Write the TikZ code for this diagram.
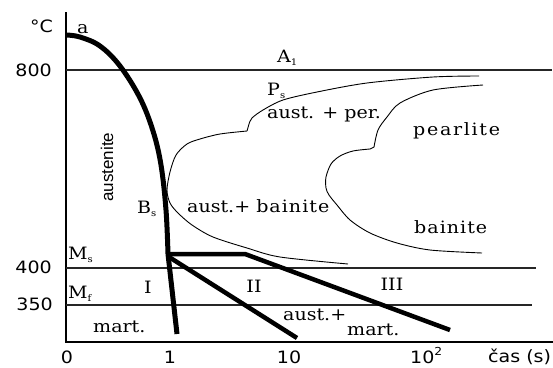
\documentclass[tikz,border=0pt]{standalone}
\usepackage{fontspec}
\newfontfamily\serifl[FakeStretch=1.12]{DejaVu Serif}
\newfontfamily\seriflA[FakeStretch=1.12,LetterSpace=10]{DejaVu Serif}
\newfontfamily\seriflB[FakeStretch=1.12,LetterSpace=6]{DejaVu Serif}
\newfontfamily\sansl[FakeStretch=1.12]{DejaVu Sans}
\newfontfamily\arl{Liberation Sans}
\newcommand\sbs[1]{\raisebox{-3.5pt}{\fontsize{9}{9}\selectfont #1}}
\begin{document}
\begin{tikzpicture}[x=1pt,y=-1pt,
  lbl/.style={font=\serifl\fontsize{17}{20}\selectfont, inner sep=0pt},
  num/.style={font=\sansl\fontsize{17}{20}\selectfont, inner sep=0pt},
  axis/.style={line width=1.6pt},
  guide/.style={line width=1.1pt, black!85},
  cool/.style={line width=5pt, line join=round},
  tcurve/.style={line width=0.9pt, line join=round}]
\useasboundingbox (0,0) rectangle (553,367);
% axes
\coordinate (O) at (66,342);
\coordinate (Ytop) at (66,12);
\coordinate (Xend) at (553,342);
\draw[axis] (Ytop) -- (O) -- (Xend);
% guide lines
\coordinate (g800a) at (66,70);  \coordinate (g800b) at (552,70);
\coordinate (g400a) at (66,268); \coordinate (g400b) at (536,268);
\coordinate (g350a) at (66,305); \coordinate (g350b) at (532,305);
\draw[guide] (g800a) -- (g800b);
\draw[guide] (g400a) -- (g400b);
\draw[guide] (g350a) -- (g350b);
% cooling curve
\coordinate (J) at (168,254);
\coordinate (K) at (245,254);
\draw[cool] plot[smooth, tension=0.6] coordinates {(66,35) (80,37) (100,46) (120,66) (140,98) (153,131) (161,165) (166,210) (168,254)} -- (177,334);
\draw[cool, line width=4.5pt] (J) -- (K) -- (450,330);
\draw[cool, line width=4.5pt] (169,257) -- (297,338);
% left C curve
\draw[tcurve] plot[smooth, tension=0.5] coordinates {(479,76) (433,77) (367,83) (317,92) (283,100) (263,110) (252,118) (249,124)} -- (247,131);
\draw[tcurve] plot[smooth, tension=0.5] coordinates {(247,131) (220,134) (200,139) (187,144) (176,155) (170,172) (167,190) (170,203) (178,213) (192,225) (213,237) (247,248) (280,257) (348,264)};
% right C curve
\draw[tcurve] plot[smooth, tension=0.5] coordinates {(483,85) (433,90) (400,103) (387,117) (378,130) (374,147)} -- (370,149);
\draw[tcurve] plot[smooth, tension=0.5] coordinates {(370,149) (353,151) (340,156) (331,164) (326,177) (326,188) (329,195) (337,205) (350,220) (370,233) (397,243) (430,250) (482,253)};
% labels
\node[num, anchor=base west] (degC) at (30,32) {°C};
\node[lbl, anchor=base west] (la) at (77,33) {a};
\node[num, anchor=base east] (t800) at (52,76) {800};
\node[num, anchor=base east] (t400) at (52,273) {400};
\node[num, anchor=base east] (t350) at (53,310) {350};
\node[lbl, anchor=base west] (A1) at (277,62) {A\sbs{1}};
\node[lbl, anchor=base west] (Ps) at (267,95) {P\sbs{s}};
\node[lbl, anchor=base west] (ap) at (267,118) {aust. + per.};
\node[lbl, anchor=base west, font=\seriflA\fontsize{17}{20}\selectfont] (pl) at (413,135) {pearlite};
\node[inner sep=0pt, anchor=base west, rotate=90, font=\arl\fontsize{17}{20}\selectfont] (aus) at (113,202) {austenite};
\node[lbl, anchor=base west] (Bs) at (137,213) {B\sbs{s}};
\node[lbl, anchor=base west] (ab) at (187,212) {aust.+ {\seriflB bainite}};
\node[lbl, anchor=base west, font=\seriflB\fontsize{17}{20}\selectfont] (bn) at (414,233) {bainite};
\node[lbl, anchor=base west] (Ms) at (68,259) {M\sbs{s}};
\node[lbl, anchor=base west] (Mf) at (68,298) {M\sbs{f}};
\node[lbl, anchor=base] (r1) at (148,293) {I};
\node[lbl, anchor=base] (r2) at (254,292) {II};
\node[lbl, anchor=base] (r3) at (392,290) {III};
\node[lbl, anchor=base west] (m1) at (93,332) {mart.};
\node[lbl, anchor=base west] (am) at (283,320) {aust.+};
\node[lbl, anchor=base west] (m2) at (347,335) {mart.};
\node[num, anchor=base] (x0) at (67,363) {0};
\node[num, anchor=base] (x1) at (170,363) {1};
\node[num, anchor=base] (x10) at (289,363) {10};
\node[num, anchor=base west] (x100) at (410,363) {10\raisebox{8pt}{\fontsize{11}{11}\selectfont 2}};
\node[num, anchor=base west] (cas) at (488,362) {čas (s)};
\end{tikzpicture}
\end{document}
